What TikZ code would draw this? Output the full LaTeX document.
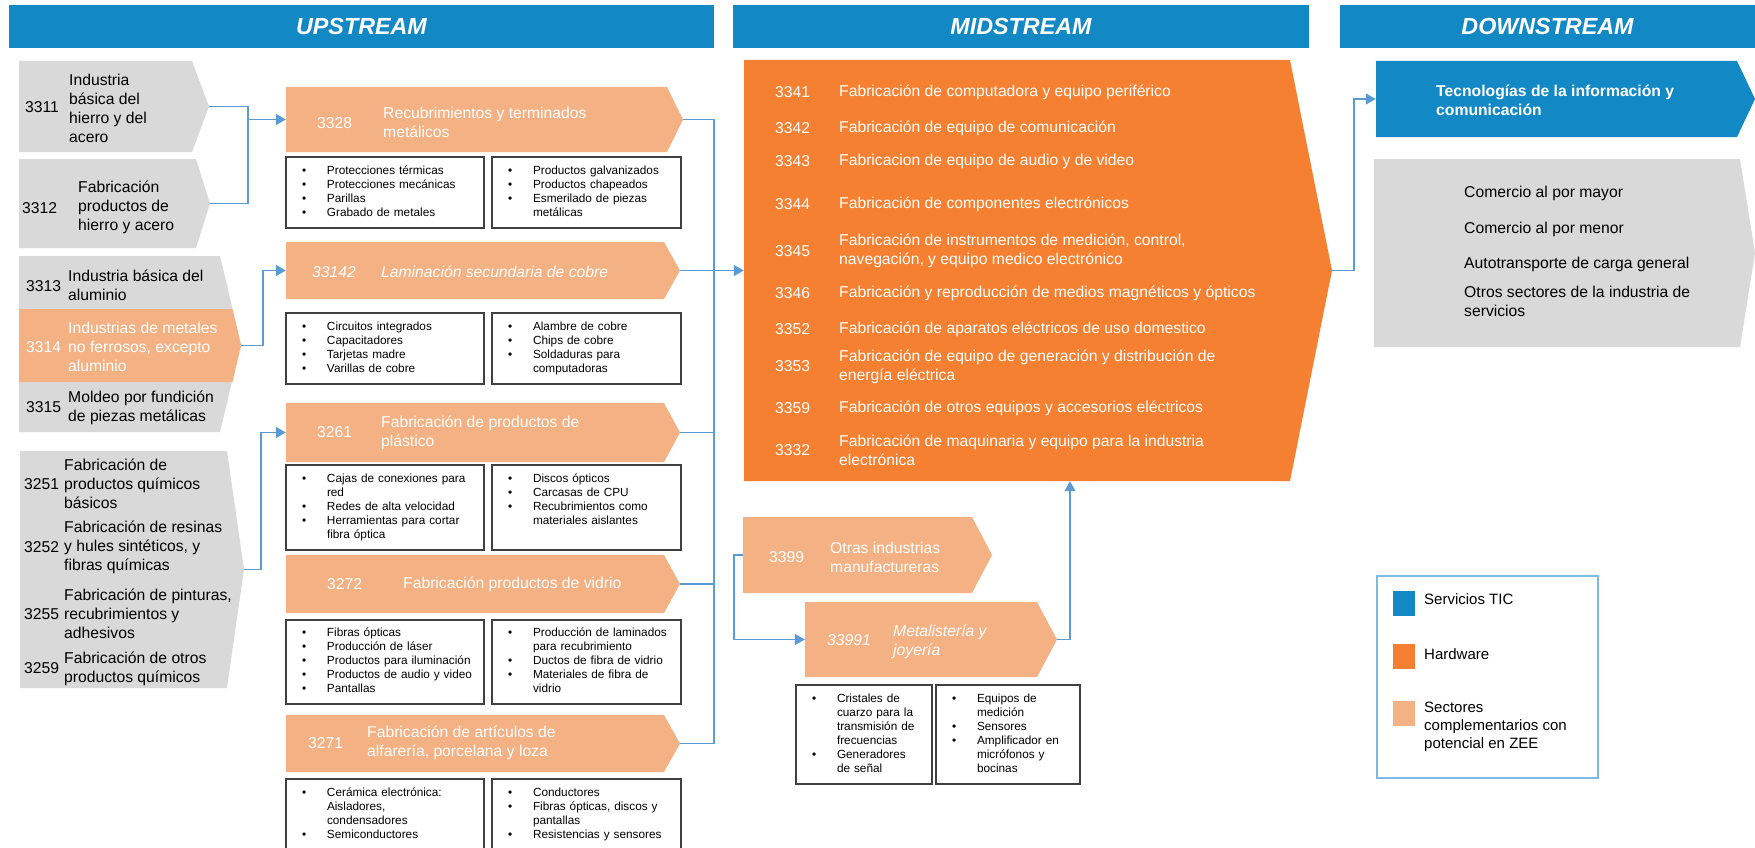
\documentclass[tikz,border=0pt]{standalone}
\usepackage{fontspec}
\setmainfont{Liberation Sans}
\usetikzlibrary{arrows.meta,positioning}

\definecolor{hdrblue}{RGB}{18,136,196}
\definecolor{cgray}{RGB}{217,217,217}
\definecolor{lorange}{RGB}{244,177,131}
\definecolor{dorange}{RGB}{245,128,49}
\definecolor{linkblue}{RGB}{91,155,213}
\definecolor{boxgray}{RGB}{64,64,64}
\definecolor{legblue}{RGB}{125,186,228}

\newcommand{\bpt}{\makebox[25pt][l]{\textbullet}}

\tikzset{
  chev/.style 2 args={inner sep=0pt, path picture={\fill[#1] (path picture bounding box.north west) -- ([xshift=-#2]path picture bounding box.north east) -- (path picture bounding box.east) -- ([xshift=-#2]path picture bounding box.south east) -- (path picture bounding box.south west) -- cycle;}},
  hdr/.style={fill=hdrblue, text=white, inner sep=0pt, minimum height=43pt, font=\fontsize{23.3}{28}\selectfont\bfseries\itshape},
  txt/.style={inner sep=0pt, anchor=west, align=left, font=\fontsize{15.7}{19}\selectfont},
  wtxt/.style={txt, text=white},
  itxt/.style={wtxt, font=\fontsize{15.7}{19}\selectfont\itshape},
  subbox/.style={draw=boxgray, line width=1.2pt, inner xsep=16pt, inner ysep=0pt, align=left, font=\fontsize{11.8}{14}\selectfont},
  subL/.style={subbox, text width=166pt},
  subR/.style={subbox, text width=157pt},
  link/.style={draw=linkblue, line width=1.5pt},
  arr/.style={link, -{Triangle[length=10pt,width=11pt]}},
}

\begin{document}
\begin{tikzpicture}[x=1pt, y=-1pt]
\useasboundingbox (0,0) rectangle (1755,848);

% headers
\node[hdr, minimum width=705pt] (hup) at (361.5,26.5) {UPSTREAM};
\node[hdr, minimum width=576pt] (hmid) at (1021,26.5) {MIDSTREAM};
\node[hdr, minimum width=415pt] (hdown) at (1547.5,26.5) {DOWNSTREAM};

% upstream, first column
\node[chev={cgray}{17pt}, minimum width=190pt, minimum height=91pt] (c3311) at (114,106.5) {};
\node[txt] (n3311) at (25,107) {3311};
\node[txt] (t3311) at (69,108) {Industria\\básica del\\hierro y del\\acero};

\node[chev={cgray}{14pt}, minimum width=191pt, minimum height=89pt] (c3312) at (114.5,203.5) {};
\node[txt] (n3312) at (22,208) {3312};
\node[txt] (t3312) at (78,207) {Fabricación\\productos de\\hierro y acero};

\node[chev={cgray}{21pt}, minimum width=222pt, minimum height=176pt] (g331) at (130,344) {};
\node[chev={lorange}{8.5pt}, minimum width=222pt, minimum height=73pt] (c3314) at (130,345.5) {};
\node[txt] (n3313) at (26,286) {3313};
\node[txt] (t3313) at (68,285.5) {Industria básica del\\aluminio};
\node[wtxt] (n3314) at (26,347) {3314};
\node[wtxt] (t3314) at (68,347) {Industrias de metales\\no ferrosos, excepto\\aluminio};
\node[txt] (n3315) at (26,407) {3315};
\node[txt] (t3315) at (68,408) {Moldeo por fundición\\de piezas metálicas};

\node[chev={cgray}{17pt}, minimum width=224pt, minimum height=237pt] (g325) at (132,569.5) {};
\node[txt] (n3251) at (24,484) {3251};
\node[txt] (t3251) at (64,484) {Fabricación de\\productos químicos\\básicos};
\node[txt] (n3252) at (24,547) {3252};
\node[txt] (t3252) at (64,547) {Fabricación de resinas\\y hules sintéticos, y\\fibras químicas};
\node[txt] (n3255) at (24,614) {3255};
\node[txt] (t3255) at (64,614) {Fabricación de pinturas,\\recubrimientos y\\adhesivos};
\node[txt] (n3259) at (24,668) {3259};
\node[txt] (t3259) at (64,668.5) {Fabricación de otros\\productos químicos};

% upstream, second column
\node[chev={lorange}{16pt}, minimum width=397pt, minimum height=65pt] (c3328) at (484.5,119.5) {};
\node[wtxt] (n3328) at (317,123) {3328};
\node[wtxt] (t3328) at (383,122.5) {Recubrimientos y terminados\\metálicos};
\node[subL, minimum height=71pt] (s3328a) at (385,192.5) {\begin{tabular}{@{}l@{}l@{}}\bpt & Protecciones térmicas\\ \bpt & Protecciones mecánicas\\ \bpt & Parillas\\ \bpt & Grabado de metales\end{tabular}};
\node[subR, minimum height=71pt] (s3328b) at (586.5,192.5) {\begin{tabular}{@{}l@{}l@{}}\bpt & Productos galvanizados\\ \bpt & Productos chapeados\\ \bpt & Esmerilado de piezas\\ & metálicas\end{tabular}};

\node[chev={lorange}{16pt}, minimum width=394pt, minimum height=57pt] (c33142) at (483,270.5) {};
\node[itxt] (n33142) at (312,272) {33142};
\node[itxt] (t33142) at (381,272) {Laminación secundaria de cobre};
\node[subL, minimum height=71pt] (s33142a) at (385,348.5) {\begin{tabular}{@{}l@{}l@{}}\bpt & Circuitos integrados\\ \bpt & Capacitadores\\ \bpt & Tarjetas madre\\ \bpt & Varillas de cobre\end{tabular}};
\node[subR, minimum height=71pt] (s33142b) at (586.5,348.5) {\begin{tabular}{@{}l@{}l@{}}\bpt & Alambre de cobre\\ \bpt & Chips de cobre\\ \bpt & Soldaduras para\\ & computadoras\end{tabular}};

\node[chev={lorange}{16pt}, minimum width=394pt, minimum height=59pt] (c3261) at (483,432.5) {};
\node[wtxt] (n3261) at (317,432) {3261};
\node[wtxt] (t3261) at (381,432.5) {Fabricación de productos de\\plástico};
\node[subL, minimum height=85pt] (s3261a) at (385,507.5) {\begin{tabular}{@{}l@{}l@{}}\bpt & Cajas de conexiones para\\ & red\\ \bpt & Redes de alta velocidad\\ \bpt & Herramientas para cortar\\ & fibra óptica\end{tabular}};
\node[subR, minimum height=85pt] (s3261b) at (586.5,507.5) {\begin{tabular}{@{}l@{}l@{}}\bpt & Discos ópticos\\ \bpt & Carcasas de CPU\\ \bpt & Recubrimientos como\\ & materiales aislantes\\ & \end{tabular}};

\node[chev={lorange}{16pt}, minimum width=394pt, minimum height=58pt] (c3272) at (483,584) {};
\node[wtxt] (n3272) at (327,584) {3272};
\node[wtxt] (t3272) at (403,584) {Fabricación productos de vidrio};
\node[subL, minimum height=84pt] (s3272a) at (385,662) {\begin{tabular}{@{}l@{}l@{}}\bpt & Fibras ópticas\\ \bpt & Producción de láser\\ \bpt & Productos para iluminación\\ \bpt & Productos de audio y video\\ \bpt & Pantallas\end{tabular}};
\node[subR, minimum height=84pt] (s3272b) at (586.5,662) {\begin{tabular}{@{}l@{}l@{}}\bpt & Producción de laminados\\ & para recubrimiento\\ \bpt & Ductos de fibra de vidrio\\ \bpt & Materiales de fibra de\\ & vidrio\end{tabular}};

\node[chev={lorange}{16pt}, minimum width=394pt, minimum height=57pt] (c3271) at (483,743.5) {};
\node[wtxt] (n3271) at (308,743) {3271};
\node[wtxt] (t3271) at (367,742.5) {Fabricación de artículos de\\alfarería, porcelana y loza};
\node[subL, minimum height=72pt] (s3271a) at (385,815) {\begin{tabular}{@{}l@{}l@{}}\bpt & Cerámica electrónica:\\ & Aisladores,\\ & condensadores\\ \bpt & Semiconductores\end{tabular}};
\node[subR, minimum height=72pt] (s3271b) at (586.5,815) {\begin{tabular}{@{}l@{}l@{}}\bpt & Conductores\\ \bpt & Fibras ópticas, discos y\\ & pantallas\\ \bpt & Resistencias y sensores\end{tabular}};

% midstream
\node[chev={dorange}{42pt}, minimum width=588pt, minimum height=421pt] (mid) at (1038,270.5) {};
\node[wtxt] (n3341) at (775,92) {3341};
\node[wtxt] (t3341) at (839,92) {Fabricación de computadora y equipo periférico};
\node[wtxt] (n3342) at (775,128) {3342};
\node[wtxt] (t3342) at (839,128) {Fabricación de equipo de comunicación};
\node[wtxt] (n3343) at (775,161) {3343};
\node[wtxt] (t3343) at (839,161) {Fabricacion de equipo de audio y de video};
\node[wtxt] (n3344) at (775,204) {3344};
\node[wtxt] (t3344) at (839,204) {Fabricación de componentes electrónicos};
\node[wtxt] (n3345) at (775,251) {3345};
\node[wtxt] (t3345) at (839,251) {Fabricación de instrumentos de medición, control,\\navegación, y equipo medico electrónico};
\node[wtxt] (n3346) at (775,293) {3346};
\node[wtxt] (t3346) at (839,293) {Fabricación y reproducción de medios magnéticos y ópticos};
\node[wtxt] (n3352) at (775,329) {3352};
\node[wtxt] (t3352) at (839,329) {Fabricación de aparatos eléctricos de uso domestico};
\node[wtxt] (n3353) at (775,366) {3353};
\node[wtxt] (t3353) at (839,367) {Fabricación de equipo de generación y distribución de\\energía eléctrica};
\node[wtxt] (n3359) at (775,408) {3359};
\node[wtxt] (t3359) at (839,408) {Fabricación de otros equipos y accesorios eléctricos};
\node[wtxt] (n3332) at (775,450) {3332};
\node[wtxt] (t3332) at (839,450) {Fabricación de maquinaria y equipo para la industria\\electrónica};

\node[chev={lorange}{20pt}, minimum width=249pt, minimum height=76pt] (c3399) at (867.5,555) {};
\node[wtxt] (n3399) at (769,557) {3399};
\node[wtxt] (t3399) at (830,557) {Otras industrias\\manufactureras};

\node[chev={lorange}{20pt}, minimum width=252pt, minimum height=75pt] (c33991) at (931,639.5) {};
\node[itxt] (n33991) at (827,640) {33991};
\node[itxt] (t33991) at (893,642) {Metalistería y\\joyería};
\node[subbox, text width=104pt, minimum height=99pt] (s33991a) at (864,734.5) {\begin{tabular}{@{}l@{}l@{}}\bpt & Cristales de\\ & cuarzo para la\\ & transmisión de\\ & frecuencias\\ \bpt & Generadores\\ & de señal\end{tabular}};
\node[subbox, text width=112pt, minimum height=99pt] (s33991b) at (1008,734.5) {\begin{tabular}{@{}l@{}l@{}}\bpt & Equipos de\\ & medición\\ \bpt & Sensores\\ \bpt & Amplificador en\\ & micrófonos y\\ & bocinas\end{tabular}};

% downstream
\node[chev={hdrblue}{18pt}, minimum width=379pt, minimum height=76pt] (tic) at (1565.5,99) {};
\node[wtxt, font=\fontsize{15.7}{19}\selectfont\bfseries] (ttic) at (1436,100.5) {Tecnologías de la información y\\comunicación};
\node[chev={cgray}{15pt}, minimum width=381pt, minimum height=188pt] (dgray) at (1564.5,253) {};
\node[txt] (d1) at (1464,193) {Comercio al por mayor};
\node[txt] (d2) at (1464,229) {Comercio al por menor};
\node[txt] (d3) at (1464,264) {Autotransporte de carga general};
\node[txt] (d4) at (1464,301.5) {Otros sectores de la industria de\\servicios};

% legend
\node[draw=legblue, line width=1.5pt, minimum width=221pt, minimum height=202pt, inner sep=0pt] (leg) at (1487.5,677) {};
\node[fill=hdrblue, minimum width=22pt, minimum height=25pt, inner sep=0pt] (k1) at (1404,603.5) {};
\node[fill=dorange, minimum width=22pt, minimum height=25pt, inner sep=0pt] (k2) at (1404,656.5) {};
\node[fill=lorange, minimum width=22pt, minimum height=25pt, inner sep=0pt] (k3) at (1404,713) {};
\node[txt, font=\fontsize{15}{18}\selectfont] (l1) at (1424,599) {Servicios TIC};
\node[txt, font=\fontsize{15}{18}\selectfont] (l2) at (1424,654) {Hardware};
\node[txt, font=\fontsize{15}{18}\selectfont] (l3) at (1424,727) {Sectores\\complementarios con\\potencial en ZEE};

% connectors
\coordinate (j1) at (248,0);
\draw[link] (c3311.east) -| (j1 |- c3312.east) -- (c3312.east);
\draw[arr] (j1 |- c3328.west) -- (c3328.west);
\draw[arr] (c3314.east) -- ++(22,0) |- (c33142.west);
\draw[arr] (g325.east) -- ++(17,0) |- (c3261.west);
\coordinate (bus) at (714,0);
\draw[link] (c3328.east) -| (bus |- c3271.east) -- (c3271.east);
\draw[link] (c33142.east) -- (bus |- c33142.east);
\draw[link] (c3261.east) -- (bus |- c3261.east);
\draw[link] (c3272.east) -- (bus |- c3272.east);
\draw[arr] (bus |- c33142.east) -- (mid.west |- c33142.east);
\draw[arr] (c3399.west) -- ++(-9,0) |- (c33991.west);
\draw[arr] (c33991.east) -| ([xshift=32pt]mid.south);
\draw[arr] (mid.east) -- ++(22,0) |- (tic.west);
\end{tikzpicture}
\end{document}
